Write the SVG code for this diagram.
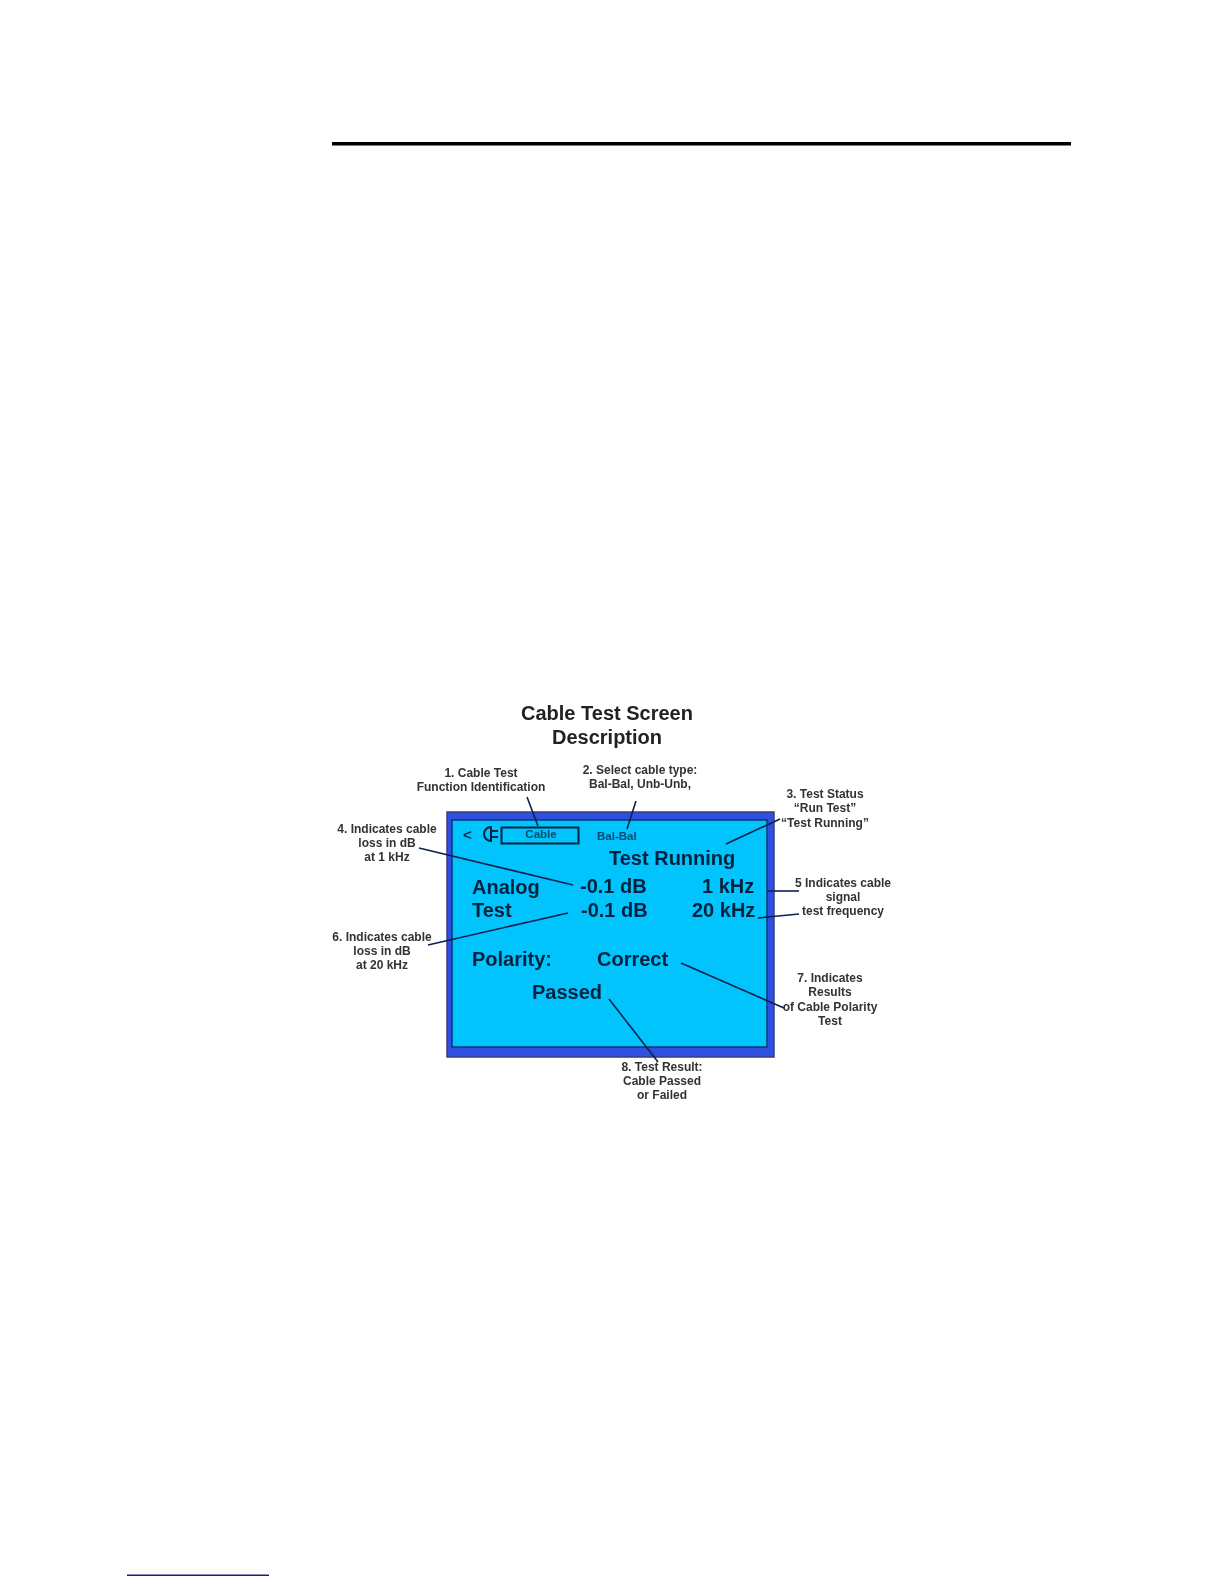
<svg xmlns="http://www.w3.org/2000/svg" width="1224" height="1584" viewBox="0 0 1224 1584">
<style>
text{font-family:"Liberation Sans",Arial,sans-serif;font-weight:bold}
.t{font-size:20px;fill:#222;text-anchor:middle}
.c{font-size:12px;fill:#333;text-anchor:middle}
.s{font-size:20px;fill:#04233f}
.l{stroke:#0c2050;stroke-width:1.6;fill:none}
</style>
<defs><filter id="soft" x="0" y="0" width="1" height="1"><feGaussianBlur stdDeviation="0.45"/></filter></defs>
<rect width="1224" height="1584" fill="#fff"/>
<rect x="332" y="142" width="739" height="3.500" fill="#000"/>
<rect x="127" y="1574.500" width="142" height="1.500" fill="#1a1a8c"/>
<g filter="url(#soft)">
<g id="title"><text class="t" x="607" y="720">Cable Test Screen</text><text class="t" x="607" y="744">Description</text></g>
<g id="screen">
<rect x="447" y="812" width="327" height="245" fill="#2f50e0" stroke="#3a3f80" stroke-width="1.500"/>
<rect x="452" y="820" width="315" height="227" fill="#00c4fb" stroke="#073a70" stroke-width="1.500"/>
<text x="463" y="840" font-size="15" fill="#04304f">&lt;</text>
<path d="M491 827a6.500 6.500 0 0 0 0 14zM491 831h7M491 837h7" fill="none" stroke="#04233f" stroke-width="2"/>
<rect x="501.500" y="827.500" width="77" height="16" fill="none" stroke="#04233f" stroke-width="2"/>
<text x="541" y="838" font-size="11.500" fill="#0a4a70" text-anchor="middle">Cable</text>
<text x="597" y="840" font-size="11.500" fill="#0a4a70">Bal-Bal</text>
<text class="s" x="609" y="865">Test Running</text>
<text class="s" x="472" y="894">Analog</text>
<text class="s" x="580" y="893">-0.1 dB</text>
<text class="s" x="702" y="893">1 kHz</text>
<text class="s" x="472" y="917">Test</text>
<text class="s" x="581" y="917">-0.1 dB</text>
<text class="s" x="692" y="917">20 kHz</text>
<text class="s" x="472" y="966">Polarity:</text>
<text class="s" x="597" y="966">Correct</text>
<text class="s" x="532" y="999">Passed</text>
</g>
<g id="connectors">
<path class="l" d="M527 797L538 826"/>
<path class="l" d="M636 801L627 829"/>
<path class="l" d="M726 844L780 819"/>
<path class="l" d="M419 848L573 885"/>
<path class="l" d="M428 945L568 913"/>
<path class="l" d="M767 891H799"/>
<path class="l" d="M758 918L799 914"/>
<path class="l" d="M681 963L784 1008"/>
<path class="l" d="M609 999L658 1062"/>
</g>
<g id="label1"><text class="c" x="481" y="777">1. Cable Test</text><text class="c" x="481" y="791">Function Identification</text></g>
<g id="label2"><text class="c" x="640" y="774">2. Select cable type:</text><text class="c" x="640" y="788">Bal-Bal, Unb-Unb,</text></g>
<g id="label3"><text class="c" x="825" y="798">3. Test Status</text><text class="c" x="825" y="812">“Run Test”</text><text class="c" x="825" y="827">“Test Running”</text></g>
<g id="label4"><text class="c" x="387" y="833">4. Indicates cable</text><text class="c" x="387" y="847">loss in dB</text><text class="c" x="387" y="861">at 1 kHz</text></g>
<g id="label5"><text class="c" x="843" y="887">5 Indicates cable</text><text class="c" x="843" y="901">signal</text><text class="c" x="843" y="915">test frequency</text></g>
<g id="label6"><text class="c" x="382" y="941">6. Indicates cable</text><text class="c" x="382" y="955">loss in dB</text><text class="c" x="382" y="969">at 20 kHz</text></g>
<g id="label7"><text class="c" x="830" y="982">7. Indicates</text><text class="c" x="830" y="996">Results</text><text class="c" x="830" y="1011">of Cable Polarity</text><text class="c" x="830" y="1025">Test</text></g>
<g id="label8"><text class="c" x="662" y="1071">8. Test Result:</text><text class="c" x="662" y="1085">Cable Passed</text><text class="c" x="662" y="1099">or Failed</text></g>
</g>
</svg>
